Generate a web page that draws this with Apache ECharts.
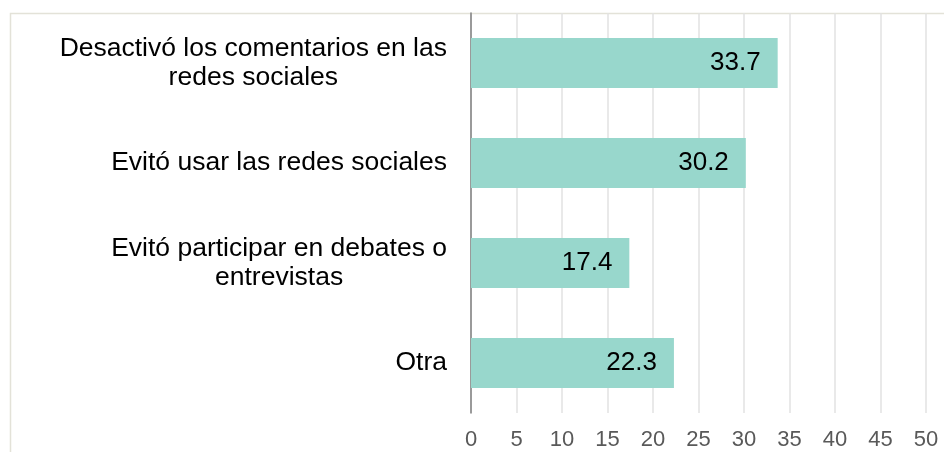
<!DOCTYPE html>
<html>
<head>
<meta charset="utf-8">
<script src="https://cdn.jsdelivr.net/npm/echarts@6/dist/echarts.min.js"></script>
<style>
  html, body { margin: 0; padding: 0; background: #fff; }
  #chart { width: 944px; height: 452px; }
</style>
</head>
<body>
<div id="chart"></div>
<script>
const categories = [
  'Desactivó los comentarios en las\nredes sociales',
  'Evitó usar las redes sociales',
  'Evitó participar en debates o\nentrevistas',
  'Otra'
]
const values = [33.7, 30.2, 17.4, 22.3]
const xTicks = [0, 50, 5]

const chart = echarts.init(document.getElementById('chart'))

chart.setOption({
  animation: false,
  textStyle: { fontFamily: '"Liberation Sans", Arial, sans-serif' },
  graphic: [
    {
      type: 'polyline',
      shape: { points: [[10.5, 460], [10.5, 13.5], [950, 13.5]] },
      style: { stroke: '#e3e2d8', lineWidth: 1.5, fill: null },
      silent: true
    }
  ],
  grid: {
    left: 471,
    right: 18,
    top: 13,
    bottom: 39
  },
  xAxis: {
    type: 'value',
    min: xTicks[0],
    max: xTicks[1],
    interval: xTicks[2],
    axisLine: { show: false },
    axisTick: { show: false },
    axisLabel: {
      color: '#595959',
      fontSize: 22,
      margin: 16
    },
    splitLine: {
      lineStyle: { color: '#e2e2e2', width: 1.5 }
    }
  },
  yAxis: {
    type: 'category',
    inverse: true,
    data: categories,
    axisLine: {
      lineStyle: { color: '#808080', width: 1.5 }
    },
    axisTick: { show: false },
    axisLabel: {
      align: 'right',
      margin: 24,
      formatter: (v) => v.split('\n').map((s) => '{c|' + s + '}').join('\n'),
      rich: {
        c: {
          color: '#000',
          fontSize: 26.5,
          lineHeight: 29,
          align: 'center'
        }
      }
    }
  },
  series: [
    {
      type: 'bar',
      data: values,
      barCategoryGap: '50%',
      itemStyle: { color: '#98d7cc' },
      label: {
        show: true,
        position: 'insideRight',
        distance: 17,
        color: '#000',
        fontSize: 26,
        formatter: (p) => p.value.toFixed(1)
      }
    }
  ]
})
</script>
</body>
</html>
